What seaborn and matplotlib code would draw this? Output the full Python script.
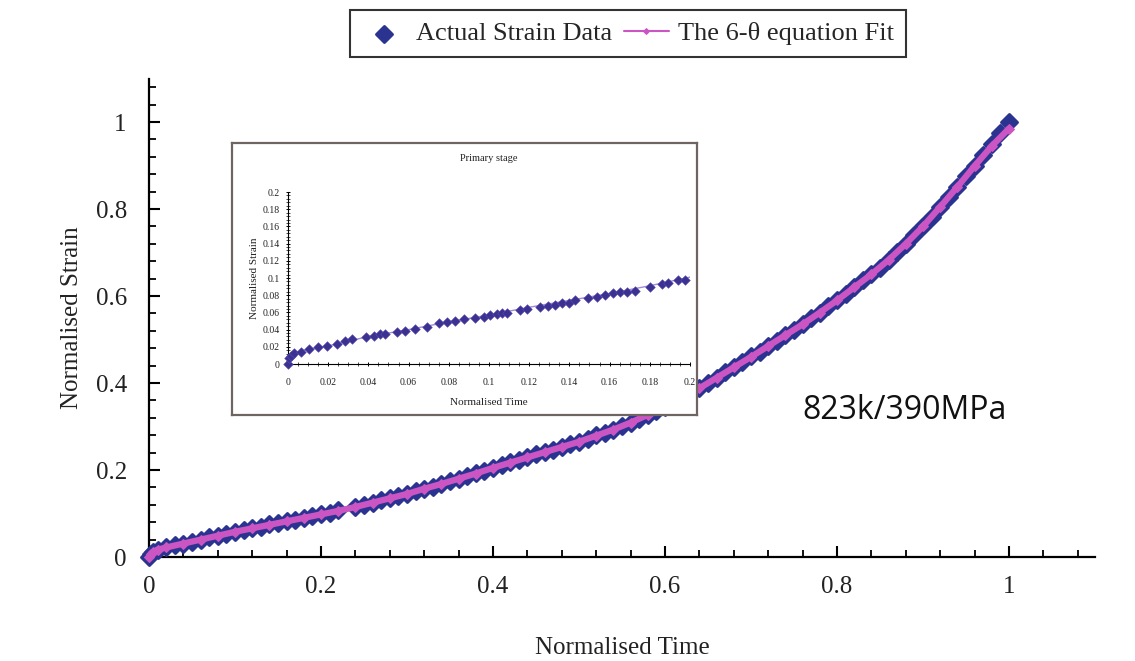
import matplotlib
matplotlib.use("Agg")
import matplotlib.pyplot as plt
from matplotlib.ticker import MultipleLocator
import seaborn as sns
import pandas as pd

# ---------------- data ----------------
main_time = [0.000, 0.002, 0.005, 0.01, 0.02, 0.03, 0.04, 0.05, 0.06, 0.07, 0.08, 0.09,
             0.10, 0.11, 0.12, 0.13, 0.14, 0.15, 0.16, 0.17, 0.18, 0.19, 0.20, 0.21, 0.22,
             0.24, 0.25, 0.26, 0.27, 0.28, 0.29, 0.30, 0.31, 0.32, 0.33, 0.34, 0.35, 0.36,
             0.37, 0.38, 0.39, 0.40, 0.41, 0.42, 0.43, 0.44, 0.45, 0.46, 0.47, 0.48, 0.49,
             0.50, 0.51, 0.52, 0.53, 0.54, 0.55, 0.56, 0.57, 0.58, 0.59, 0.60, 0.61, 0.62,
             0.63, 0.64, 0.65, 0.66, 0.67, 0.68, 0.69, 0.70, 0.71, 0.72, 0.73, 0.74, 0.75,
             0.76, 0.77, 0.78, 0.79, 0.80, 0.81, 0.82, 0.83, 0.84, 0.85, 0.86, 0.87, 0.88,
             0.89, 0.90, 0.91, 0.92, 0.93, 0.94, 0.95, 0.96, 0.97, 0.98, 0.99, 1.00]
main_strain = [0.000, 0.007, 0.012, 0.017, 0.022, 0.027, 0.031, 0.035, 0.040, 0.045, 0.049, 0.053,
               0.058, 0.062, 0.067, 0.070, 0.075, 0.078, 0.083, 0.086, 0.090, 0.095, 0.098, 0.102, 0.107,
               0.115, 0.120, 0.125, 0.131, 0.135, 0.140, 0.146, 0.151, 0.157, 0.162, 0.168, 0.175, 0.180,
               0.186, 0.193, 0.198, 0.205, 0.211, 0.218, 0.223, 0.229, 0.236, 0.241, 0.247, 0.254, 0.259,
               0.265, 0.272, 0.280, 0.286, 0.293, 0.301, 0.309, 0.318, 0.327, 0.336, 0.346, 0.356, 0.366,
               0.377, 0.389, 0.400, 0.412, 0.425, 0.436, 0.448, 0.461, 0.472, 0.485, 0.497, 0.511, 0.522,
               0.535, 0.549, 0.562, 0.577, 0.590, 0.605, 0.620, 0.636, 0.650, 0.665, 0.683, 0.701, 0.720,
               0.740, 0.760, 0.782, 0.805, 0.828, 0.851, 0.875, 0.899, 0.924, 0.949, 0.974, 1.000]

fit_time = [0.0, 0.002, 0.005, 0.01, 0.02, 0.04, 0.06, 0.08, 0.10, 0.12, 0.14, 0.16, 0.18, 0.20,
            0.22, 0.24, 0.26, 0.28, 0.30, 0.32, 0.34, 0.36, 0.38, 0.40, 0.42, 0.44, 0.46, 0.48,
            0.50, 0.52, 0.54, 0.56, 0.58, 0.60, 0.62, 0.64, 0.66, 0.68, 0.70, 0.72, 0.74, 0.76,
            0.78, 0.80, 0.82, 0.84, 0.86, 0.88, 0.90, 0.92, 0.94, 0.96, 0.98, 1.00]
fit_strain = [0.0, 0.007, 0.012, 0.017, 0.022, 0.031, 0.040, 0.049, 0.058, 0.066, 0.074, 0.082, 0.090, 0.098,
              0.106, 0.115, 0.125, 0.135, 0.145, 0.157, 0.168, 0.180, 0.192, 0.205, 0.217, 0.229, 0.241, 0.253,
              0.265, 0.279, 0.293, 0.309, 0.327, 0.345, 0.366, 0.388, 0.412, 0.436, 0.460, 0.485, 0.510, 0.535,
              0.562, 0.590, 0.620, 0.650, 0.683, 0.720, 0.760, 0.805, 0.851, 0.899, 0.945, 0.985]

inset_time = [0.0, 0.0005, 0.0013, 0.003, 0.0063, 0.0104, 0.0149, 0.0195, 0.0245, 0.0286, 0.032,
              0.0386, 0.0427, 0.046, 0.0485, 0.0543, 0.0584, 0.0634, 0.0692, 0.075, 0.0791, 0.0833,
              0.0874, 0.0932, 0.0974, 0.1007, 0.104, 0.1065, 0.109, 0.1156, 0.1189, 0.1255, 0.1296,
              0.1329, 0.1363, 0.1396, 0.1429, 0.1495, 0.1536, 0.1578, 0.1619, 0.1652, 0.1685, 0.1727,
              0.1801, 0.1859, 0.1892, 0.1942, 0.1975]
inset_strain = [0.0, 0.0066, 0.0093, 0.0124, 0.0143, 0.017, 0.0201, 0.0209, 0.0232, 0.0267, 0.0286,
                0.0317, 0.0325, 0.0344, 0.0344, 0.0368, 0.0383, 0.0402, 0.0426, 0.0472, 0.0487, 0.0499,
                0.0518, 0.0538, 0.0545, 0.0565, 0.058, 0.0588, 0.0588, 0.0627, 0.0638, 0.0665, 0.0677,
                0.0692, 0.0704, 0.0712, 0.0739, 0.0762, 0.0774, 0.0801, 0.082, 0.0832, 0.0839, 0.0851,
                0.0897, 0.0925, 0.0944, 0.0975, 0.0975]

inset_fit_time = [0.0, 0.001, 0.003, 0.006, 0.01, 0.02, 0.04, 0.06, 0.08, 0.10, 0.12, 0.14, 0.16, 0.18, 0.20]
inset_fit_strain = [0.0, 0.007, 0.012, 0.015, 0.017, 0.021, 0.032, 0.040, 0.049, 0.057, 0.066, 0.074, 0.082, 0.091, 0.101]

main_ticks = [0, 0.2, 0.4, 0.6, 0.8, 1.0]
main_ticklabels = ["0", "0.2", "0.4", "0.6", "0.8", "1"]
inset_xticks = [0, 0.02, 0.04, 0.06, 0.08, 0.1, 0.12, 0.14, 0.16, 0.18, 0.2]
inset_xlabels = ["0", "0.02", "0.04", "0.06", "0.08", "0.1", "0.12", "0.14", "0.16", "0.18", "0.2"]
inset_yticks = [0, 0.02, 0.04, 0.06, 0.08, 0.1, 0.12, 0.14, 0.16, 0.18, 0.2]
inset_ylabels = ["0", "0.02", "0.04", "0.06", "0.08", "0.1", "0.12", "0.14", "0.16", "0.18", "0.2"]

label_data = "Actual Strain Data"
label_fit = "The 6-\u03b8 equation Fit"
annotation = "823k/390MPa"

# ---------------- style ----------------
sns.set_style("white")
plt.rcParams["font.family"] = ["Liberation Serif", "DejaVu Serif"]

NAVY = "#2B3390"
PINK = "#CC55C4"
LAV = "#A58BD6"

df_main = pd.DataFrame({"t": main_time, "s": main_strain})
df_fit = pd.DataFrame({"t": fit_time, "s": fit_strain})
df_in = pd.DataFrame({"t": inset_time, "s": inset_strain})
df_infit = pd.DataFrame({"t": inset_fit_time, "s": inset_fit_strain})

fig = plt.figure(figsize=(11.35, 6.61), dpi=100)
ax = fig.add_axes([0.1313, 0.1573, 0.8335, 0.7239])

sns.scatterplot(data=df_main, x="t", y="s", ax=ax, marker="D", s=68, color=NAVY,
                edgecolor=NAVY, linewidth=2.0, label=label_data, clip_on=False, zorder=3)
sns.lineplot(data=df_fit, x="t", y="s", ax=ax, color=PINK, linewidth=4.5, marker="D",
             markersize=5, markeredgecolor=PINK, label=label_fit, estimator=None, sort=False,
             zorder=4, clip_on=False)

ax.set_xlim(0, 1.1)
ax.set_ylim(0, 1.1)
ax.set_xticks(main_ticks)
ax.set_xticklabels(main_ticklabels)
ax.set_yticks(main_ticks)
ax.set_yticklabels(main_ticklabels)
ax.xaxis.set_minor_locator(MultipleLocator(0.04))
ax.yaxis.set_minor_locator(MultipleLocator(0.04))
ax.tick_params(axis="both", which="both", bottom=True, left=True, top=False, right=False)
ax.tick_params(axis="both", which="major", direction="in", length=8, width=1.5,
               labelsize=18, color="black", labelcolor="#222222")
ax.tick_params(axis="both", which="minor", direction="in", length=5, width=1.3, color="black")
ax.tick_params(axis="x", which="major", pad=14)
ax.tick_params(axis="y", which="major", pad=16)
for side in ["top", "right"]:
    ax.spines[side].set_visible(False)
for side in ["left", "bottom"]:
    ax.spines[side].set_color("black")
    ax.spines[side].set_linewidth(1.6)
ax.set_xlabel("Normalised Time", fontsize=18, labelpad=28, color="#222222")
ax.set_ylabel("Normalised Strain", fontsize=18, labelpad=9, color="#222222")

handles, labels = ax.get_legend_handles_labels()
if ax.get_legend() is not None:
    ax.get_legend().remove()
leg = fig.legend(handles, labels, loc="center", bbox_to_anchor=(0.553, 0.949), ncol=2,
                 frameon=True, fancybox=False, edgecolor="black", fontsize=19,
                 handlelength=1.7, columnspacing=0.45, handletextpad=0.35, borderpad=0.45,
                 borderaxespad=0.0)
leg.get_frame().set_linewidth(1.5)
for ln in leg.get_lines():
    ln.set_linewidth(1.5)
    ln.set_markersize(3)

ax.text(0.878, 0.337, annotation, fontsize=23, family=["Open Sans", "DejaVu Sans"],
        color="#111111", ha="center", va="center", transform=ax.transData)

# ---------------- inset ----------------
frame = fig.add_axes([0.2044, 0.3722, 0.4097, 0.4115])
frame.set_facecolor("white")
frame.set_xticks([])
frame.set_yticks([])
for sp in frame.spines.values():
    sp.set_color("#6E6462")
    sp.set_linewidth(1.6)
frame.set_zorder(5)

ins = fig.add_axes([0.2537, 0.4493, 0.3542, 0.2602])
ins.set_zorder(6)
ins.patch.set_alpha(0)
sns.lineplot(data=df_infit, x="t", y="s", ax=ins, color=LAV, linewidth=1.0,
             estimator=None, sort=False, zorder=2)
sns.scatterplot(data=df_in, x="t", y="s", ax=ins, marker="D", s=24, color="#3A3190",
                edgecolor="#5A4AB0", linewidth=0.4, zorder=3, clip_on=False)
ins.set_xlim(0, 0.2)
ins.set_ylim(0, 0.2)
ins.set_xticks(inset_xticks)
ins.set_xticklabels(inset_xlabels)
ins.set_yticks(inset_yticks)
ins.set_yticklabels(inset_ylabels)
ins.xaxis.set_minor_locator(MultipleLocator(0.005))
ins.yaxis.set_minor_locator(MultipleLocator(0.004))
ins.tick_params(axis="both", which="both", bottom=True, left=True, top=False, right=False)
ins.tick_params(axis="both", which="major", direction="inout", length=3.5, width=0.7,
                labelsize=7, color="black", labelcolor="#222222")
ins.tick_params(axis="x", which="major", pad=8)
ins.tick_params(axis="y", which="major", pad=4)
ins.tick_params(axis="both", which="minor", direction="inout", length=2.5, width=0.5, color="black")
for side in ["top", "right"]:
    ins.spines[side].set_visible(False)
for side in ["left", "bottom"]:
    ins.spines[side].set_color("black")
    ins.spines[side].set_linewidth(0.8)
ins.set_xlabel("Normalised Time", fontsize=8, labelpad=8, color="#222222")
ins.set_ylabel("Normalised Strain", fontsize=8, labelpad=3, color="#222222")
ins.set_title("Primary stage", fontsize=7.5, pad=22, color="#222222")
if ins.get_legend() is not None:
    ins.get_legend().remove()

fig.savefig("out.png", dpi=100, facecolor="white")
